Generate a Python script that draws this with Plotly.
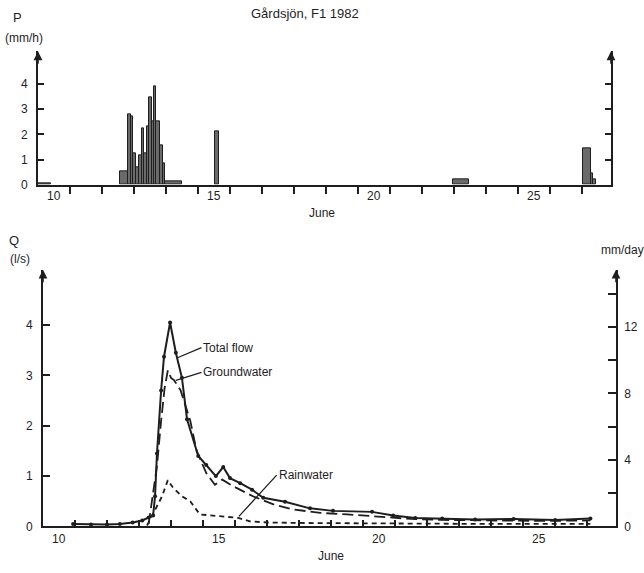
import plotly.graph_objects as go

W, H = 644, 573

# ---- Precipitation (mm/h): interval start day, end day, intensity ----
rain_start = [10.00, 12.56, 12.81, 12.89, 12.97, 13.06, 13.16, 13.25, 13.31, 13.41,
              13.47, 13.56, 13.63, 13.69, 13.81, 13.91, 13.97, 15.53, 22.97,
              27.03, 27.28, 27.34]
rain_end = [10.40, 12.81, 12.89, 12.97, 13.06, 13.16, 13.25, 13.31, 13.41, 13.47,
            13.56, 13.63, 13.69, 13.81, 13.91, 13.97, 14.50, 15.66, 23.47,
            27.28, 27.34, 27.44]
rain_rate = [0.06, 0.55, 2.80, 2.70, 1.25, 0.70, 1.15, 2.25, 1.25, 2.30,
             3.45, 2.50, 3.90, 2.50, 1.55, 0.85, 0.12, 2.10, 0.22,
             1.45, 0.45, 0.20]

# ---- Runoff (l/s) ----
total_day = [10.94, 11.50, 12.00, 12.40, 12.80, 13.10, 13.30, 13.44, 13.50, 13.56,
             13.69, 13.78, 13.97, 14.15, 14.34, 14.50, 14.85, 15.10, 15.40, 15.63,
             15.84, 16.16, 16.53, 16.88, 17.56, 18.34, 19.06, 20.28, 20.94, 21.63,
             22.47, 23.50, 24.70, 26.00, 27.10]
total_q = [0.05, 0.04, 0.04, 0.05, 0.08, 0.12, 0.18, 0.22, 0.60, 1.45,
           2.70, 3.37, 4.05, 3.45, 2.95, 2.13, 1.40, 1.22, 1.00, 1.18,
           0.96, 0.86, 0.73, 0.57, 0.49, 0.36, 0.31, 0.29, 0.22, 0.17,
           0.16, 0.14, 0.15, 0.13, 0.16]

ground_day = [13.30, 13.56, 13.69, 13.80, 13.90, 14.00, 14.10, 14.30, 14.60, 14.80,
              15.10, 15.37, 15.60, 15.94, 16.56, 17.20, 17.80, 18.66, 19.50, 20.50,
              21.50, 22.50, 24.00, 25.50, 27.10]
ground_q = [0.05, 1.20, 2.10, 2.75, 3.10, 2.95, 2.90, 2.70, 2.10, 1.50,
            1.06, 0.83, 0.93, 0.80, 0.60, 0.44, 0.34, 0.27, 0.24, 0.20,
            0.15, 0.13, 0.12, 0.11, 0.12]

rainw_day = [13.25, 13.56, 13.72, 13.90, 14.06, 14.34, 14.60, 14.90, 15.44, 16.10,
             16.47, 17.00, 18.00, 20.00, 22.00, 24.00, 27.10]
rainw_q = [0.02, 0.40, 0.60, 0.92, 0.77, 0.60, 0.50, 0.24, 0.21, 0.17,
           0.10, 0.08, 0.07, 0.06, 0.05, 0.05, 0.05]

day_ticks = list(range(11, 28))
day_label_pos = [10.5, 15.5, 20.5, 25.5]
day_labels = ["10", "15", "20", "25"]
p_ticks = [0, 1, 2, 3, 4]
q_ticks = [0, 1, 2, 3, 4]
mm_ticks = [0, 4, 8, 12]
mm_all_ticks = [0, 2, 4, 6, 8, 10, 12, 14]

MM_PER_LS = 3.03  # runoff depth (mm/day) per l/s for the catchment

INK = "#1e1e1e"
FONT = "Liberation Sans, Arial, sans-serif"

def px_x(p):
    return p / W

def px_y(p):
    return 1 - p / H

fig = go.Figure()

# Precipitation histogram
fig.add_trace(go.Bar(
    x=[(a + b) / 2 for a, b in zip(rain_start, rain_end)],
    width=[b - a for a, b in zip(rain_start, rain_end)],
    y=rain_rate,
    marker=dict(color="#6a6a6a", line=dict(color=INK, width=1)),
    xaxis="x", yaxis="y", showlegend=False,
))

# Runoff components
fig.add_trace(go.Scatter(
    x=total_day, y=total_q, mode="lines+markers",
    line=dict(color=INK, width=2),
    marker=dict(size=4, color=INK),
    xaxis="x2", yaxis="y2", showlegend=False,
))
fig.add_trace(go.Scatter(
    x=ground_day, y=ground_q, mode="lines",
    line=dict(color=INK, width=1.8, dash="11px,5px"),
    xaxis="x2", yaxis="y2", showlegend=False,
))
fig.add_trace(go.Scatter(
    x=rainw_day, y=rainw_q, mode="lines",
    line=dict(color=INK, width=1.8, dash="5px,4px"),
    xaxis="x2", yaxis="y2", showlegend=False,
))
# mm/day scale shares the runoff plot
fig.add_trace(go.Scatter(
    x=[total_day[0]], y=[total_q[0] * MM_PER_LS], mode="markers",
    marker=dict(size=0.1, opacity=0), hoverinfo="skip",
    xaxis="x2", yaxis="y3", showlegend=False,
))

# Plot geometry
top_x0, top_x1 = 38, 611
top_y0, top_y1 = 52, 187
bot_x0, bot_x1 = 43, 616
bot_y0, bot_y1 = 273, 533
x_end = 27.9
p_top = (top_y1 - top_y0) / 25.5
q_top = (bot_y1 - bot_y0) / 51.0

axis_common = dict(showgrid=False, zeroline=False, showline=True,
                   linecolor=INK, linewidth=1.6, tickcolor=INK, tickwidth=2,
                   tickfont=dict(family=FONT, size=12, color=INK))

fig.update_layout(
    width=W, height=H,
    margin=dict(l=0, r=0, t=0, b=0),
    paper_bgcolor="white", plot_bgcolor="white",
    bargap=0,
    xaxis=dict(
        domain=[px_x(top_x0), px_x(top_x1)], anchor="y", range=[10, x_end],
        tickmode="array", tickvals=day_ticks, showticklabels=False,
        ticks="outside", ticklen=7, **axis_common),
    yaxis=dict(
        domain=[px_y(top_y1), px_y(top_y0)], anchor="x", range=[0, p_top],
        tickmode="array", tickvals=p_ticks, ticks="inside", ticklen=6,
        mirror="ticks", ticklabelstandoff=6, **axis_common),
    xaxis2=dict(
        domain=[px_x(bot_x0), px_x(bot_x1)], anchor="y2", range=[10, x_end],
        tickmode="array", tickvals=day_ticks, showticklabels=False,
        ticks="inside", ticklen=7, **axis_common),
    yaxis2=dict(
        domain=[px_y(bot_y1), px_y(bot_y0)], anchor="x2", range=[0, q_top],
        tickmode="array", tickvals=q_ticks, ticks="inside", ticklen=7,
        ticklabelstandoff=6, **axis_common),
    yaxis3=dict(
        overlaying="y2", side="right", anchor="x2", range=[0, q_top * MM_PER_LS],
        tickmode="array", tickvals=mm_all_ticks,
        ticktext=[str(v) if v in mm_ticks else "" for v in mm_all_ticks],
        ticks="inside", ticklen=8, ticklabelstandoff=4, **axis_common),
)

ann = []

def text(x, y, s, size=12, xanchor="center", yanchor="middle"):
    ann.append(dict(x=px_x(x), y=px_y(y), xref="paper", yref="paper", text=s,
                    showarrow=False, xanchor=xanchor, yanchor=yanchor,
                    font=dict(family=FONT, size=size, color=INK)))

text(305, 14, "Gårdsjön, F1 1982", size=13)
text(17, 18, "P", size=13)
text(24, 38, "(mm/h)", size=12)
text(322, 216, "June", size=12)
text(14, 243, "Q", size=13)
text(20, 262, "(l/s)", size=12)
text(599, 253, "mm/day", size=12, xanchor="left")
text(331, 563, "June", size=12)

# Day labels sit in the middle of each day interval
for xr, ypix in [("x", 198), ("x2", 546)]:
    for pos, lab in zip(day_label_pos, day_labels):
        ann.append(dict(x=pos, y=px_y(ypix), xref=xr, yref="paper", text=lab,
                        showarrow=False, xanchor="center", yanchor="middle",
                        font=dict(family=FONT, size=12, color=INK)))

# Arrowheads at the tops of the vertical axes
for xr, yr, xv in [("x", "y", 0), ("x", "y", 1), ("x2", "y2", 0), ("x2", "y2", 1)]:
    ann.append(dict(x=xv, y=1, xref=f"{xr} domain", yref=f"{yr} domain",
                    ax=0, ay=14, axref="pixel", ayref="pixel", text="",
                    showarrow=True, arrowhead=2, arrowsize=1.1, arrowwidth=1.6,
                    arrowcolor=INK))

# Curve labels with leader lines
def leader(label, px_, py_, tx, ty):
    ann.append(dict(x=px_, y=py_, xref="x2", yref="y2",
                    ax=tx, ay=ty, axref="x2", ayref="y2",
                    text=label, xanchor="left", yanchor="middle",
                    showarrow=True, arrowhead=0, arrowwidth=1.3, arrowcolor=INK,
                    font=dict(family=FONT, size=12, color=INK)))

leader("Total flow", 14.2, 3.35, 14.95, 3.55)
leader("Groundwater", 14.15, 2.9, 14.95, 3.06)
leader("Rainwater", 16.12, 0.2, 17.3, 1.02)

fig.update_layout(annotations=ann)

fig.write_html("out.html")
